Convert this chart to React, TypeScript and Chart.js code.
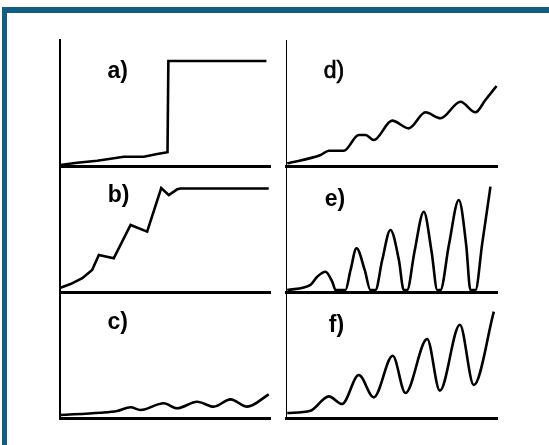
import React, { useEffect, useRef } from "react";
import { Chart, registerables } from "chart.js";

Chart.register(...registerables);

// ---- data (x: 0..100 across each panel, y: 0..100 panel height) ----
const aX = [0, 8.2, 17.7, 30.4, 39.9, 46.3, 51.2, 51.6, 98.3];
const aY = [0.8, 2.6, 4.2, 7.4, 7.4, 9.5, 10.9, 83.3, 83.3];

const bX = [0.2, 5, 10.6, 15.3, 18.5, 25.6, 33.6, 41.5, 48.2, 51.8, 55.8, 57.4, 99.4];
const bY = [3.4, 6.3, 10.9, 17.5, 29.4, 26.7, 53.2, 47.9, 82.5, 77, 81.5, 82.1, 82.1];

const cX = [0.2, 19.3, 27.2, 33.6, 38.3, 49.4, 55.8, 65.3, 73.2, 81.2, 89.1, 99.4];
const cY = [2.4, 4.2, 5.6, 8.5, 6.3, 11.7, 7.7, 12.9, 9, 14.8, 9, 18.8];

const dX = [0.6, 16.4, 20.3, 27.4, 34.5, 37.7, 41.6, 50.3, 58.2, 66.1, 73.2, 82.7, 89.8, 94.5, 99.8];
const dY = [2.1, 8.7, 12.1, 12.1, 24.6, 24.6, 20.6, 36, 29.9, 42.6, 37.9, 51, 42.6, 52.4, 63.5];

const eX = [0.6, 11.6, 14.8, 18.7, 21.9, 23.5, 28.2, 30.6, 33.4, 37.3, 40, 42.4, 45.6, 49.5, 53.5, 55.8, 57.4, 60.9, 65.3, 69, 71.7, 73.2, 77.2, 81.9, 85.4, 87.4, 89.8, 93, 96.9];
const eY = [1.6, 5.6, 12.1, 16.1, 8.2, 1.6, 1.6, 17.5, 34.7, 17.5, 1.6, 1.6, 25.4, 49.2, 25.4, 1.6, 1.6, 32, 63.7, 32, 1.6, 1.6, 37.3, 73, 37.3, 1.6, 1.6, 38.6, 83.6];

const fX = [0.6, 11.6, 20.3, 26.6, 34.5, 41.6, 50.6, 56.6, 66.9, 72.9, 82.4, 89, 98.5];
const fY = [4, 5.8, 17.2, 11.1, 34.1, 16.4, 49.4, 19.8, 62.7, 21.7, 74, 26.2, 84.4];

const panelLabels = ["a)", "b)", "c)", "d)", "e)", "f)"];

// ---- layout ----
const PAD = 6;
const COL_LEFT = [59.5, 285.5];
const COL_WIDTH = [210, 211];
const ROW_TOP = [40, 166, 292];
const ROW_HEIGHT = 126;

type PanelProps = {
  xs: number[];
  ys: number[];
  label: string;
  col: number;
  row: number;
  smooth: boolean;
  axisW: number;
  labelDx: number;
  labelDy: number;
  bold: boolean;
};

function Panel(p: PanelProps) {
  const ref = useRef<HTMLCanvasElement | null>(null);
  const left = COL_LEFT[p.col] - PAD;
  const top = ROW_TOP[p.row] - PAD;
  const w = COL_WIDTH[p.col] + 2 * PAD;
  const h = ROW_HEIGHT + 2 * PAD;

  useEffect(() => {
    if (!ref.current) return;
    const labelPlugin = {
      id: "panelLabel",
      afterDatasetsDraw(chart: any) {
        const { ctx, chartArea } = chart;
        ctx.save();
        ctx.fillStyle = "#000";
        ctx.strokeStyle = "#000";
        ctx.font = `${p.bold ? "bold " : ""}23px "Liberation Sans", Arial, sans-serif`;
        ctx.textAlign = "left";
        ctx.textBaseline = "alphabetic";
        const tx = chartArea.left + p.labelDx;
        const ty = chartArea.top + p.labelDy;
        ctx.fillText(p.label, tx, ty);
        if (!p.bold) {
          ctx.lineWidth = 0.7;
          ctx.strokeText(p.label, tx, ty);
        }
        ctx.restore();
      },
    };
    const chart = new Chart(ref.current, {
      type: "line",
      data: {
        datasets: [
          {
            data: p.xs.map((x, i) => ({ x, y: p.ys[i] })),
            borderColor: "#000",
            borderWidth: 2.6,
            pointRadius: 0,
            fill: false,
            tension: p.smooth ? 0.4 : 0,
            cubicInterpolationMode: p.smooth ? "monotone" : "default",
            clip: 8,
          } as any,
        ],
      },
      options: {
        animation: false,
        responsive: false,
        events: [],
        layout: { padding: PAD },
        plugins: { legend: { display: false }, tooltip: { enabled: false } },
        scales: {
          x: {
            type: "linear",
            min: 0,
            max: 100,
            grid: { display: false, drawTicks: false, tickLength: 0 },
            ticks: { display: false },
            border: { display: true, color: "#000", width: 3 },
          },
          y: {
            type: "linear",
            min: 0,
            max: 100,
            grid: { display: false, drawTicks: false, tickLength: 0 },
            ticks: { display: false },
            border: { display: true, color: "#000", width: p.axisW },
          },
        },
      } as any,
      plugins: [labelPlugin],
    });
    return () => chart.destroy();
  }, []);

  return (
    <canvas
      ref={ref}
      width={w}
      height={h}
      style={{ position: "absolute", left, top, width: w, height: h }}
    />
  );
}

export default function App() {
  const panels: PanelProps[] = [
    { xs: aX, ys: aY, label: panelLabels[0], col: 0, row: 0, smooth: false, axisW: 2, labelDx: 47.5, labelDy: 37.5, bold: true },
    { xs: bX, ys: bY, label: panelLabels[1], col: 0, row: 1, smooth: false, axisW: 2, labelDx: 47.8, labelDy: 36, bold: true },
    { xs: cX, ys: cY, label: panelLabels[2], col: 0, row: 2, smooth: true, axisW: 2, labelDx: 47.5, labelDy: 37, bold: true },
    { xs: dX, ys: dY, label: panelLabels[3], col: 1, row: 0, smooth: true, axisW: 1, labelDx: 37.8, labelDy: 37.5, bold: false },
    { xs: eX, ys: eY, label: panelLabels[4], col: 1, row: 1, smooth: true, axisW: 1, labelDx: 38.8, labelDy: 40, bold: true },
    { xs: fX, ys: fY, label: panelLabels[5], col: 1, row: 2, smooth: true, axisW: 1, labelDx: 42.8, labelDy: 40, bold: true },
  ];
  return (
    <div
      style={{
        position: "fixed",
        left: 0,
        top: 0,
        width: 549,
        height: 445,
        background: "#fff",
        overflow: "hidden",
      }}
    >
      <div
        style={{
          position: "absolute",
          left: 2,
          top: 7,
          width: 547,
          height: 438,
          borderTop: "6px solid #145d82",
          borderLeft: "5px solid #145d82",
          boxSizing: "border-box",
        }}
      />
      {panels.map((p, i) => (
        <Panel key={i} {...p} />
      ))}
    </div>
  );
}
